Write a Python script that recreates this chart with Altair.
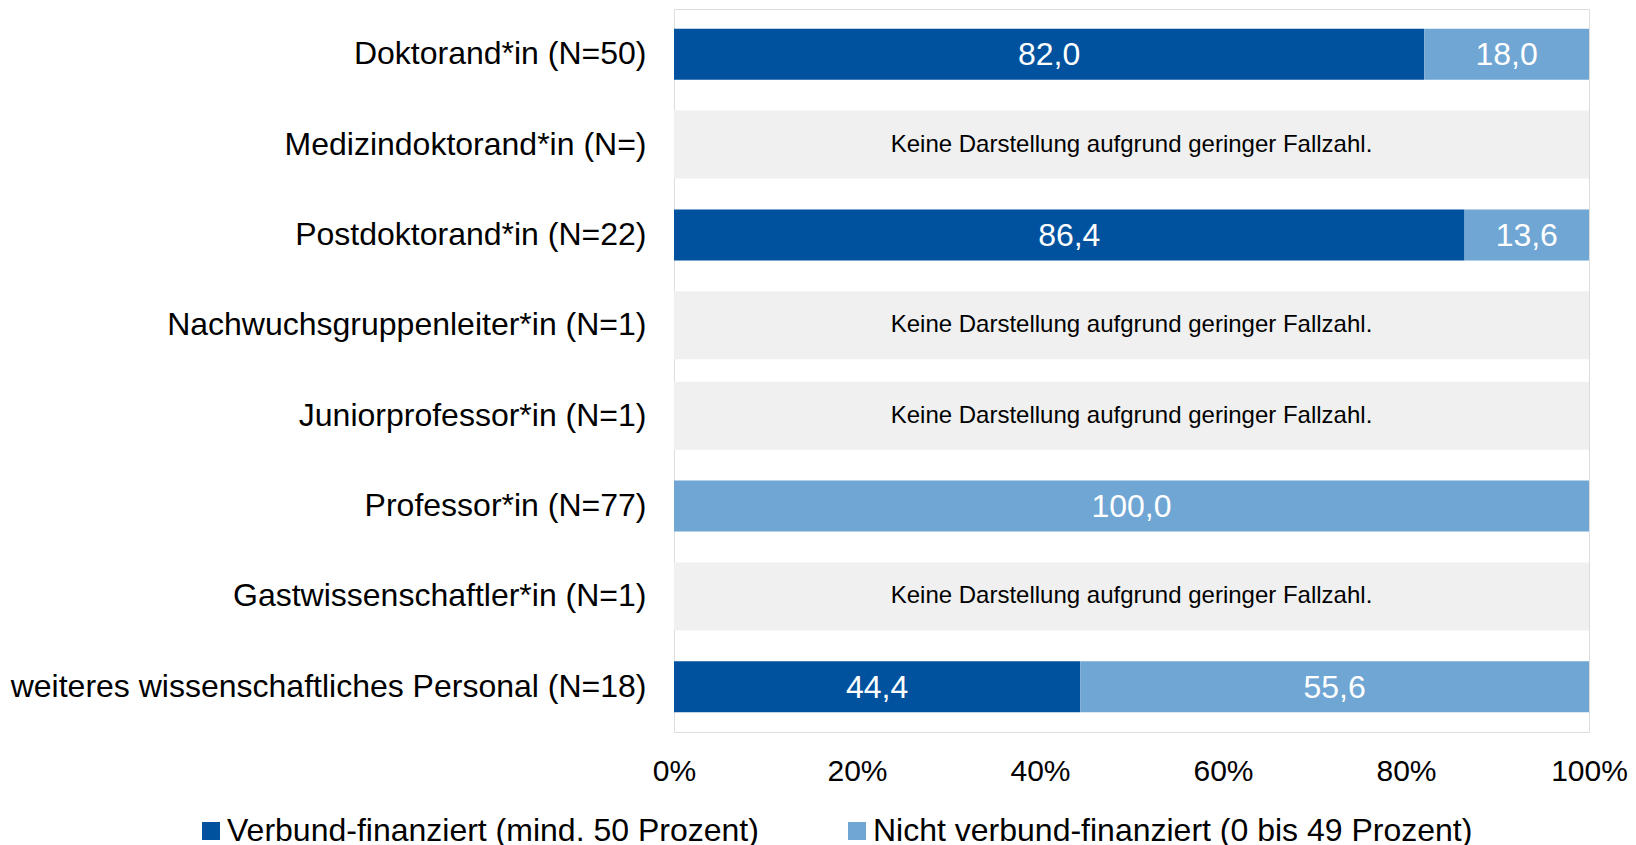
import altair as alt
import pandas as pd

categories = [
    "Doktorand*in (N=50)",
    "Medizindoktorand*in (N=)",
    "Postdoktorand*in (N=22)",
    "Nachwuchsgruppenleiter*in (N=1)",
    "Juniorprofessor*in (N=1)",
    "Professor*in (N=77)",
    "Gastwissenschaftler*in (N=1)",
    "weiteres wissenschaftliches Personal (N=18)",
]
verbund = [82.0, None, 86.4, None, None, 0.0, None, 44.4]
nicht = [18.0, None, 13.6, None, None, 100.0, None, 55.6]
series = ["Verbund-finanziert (mind. 50 Prozent)", "Nicht verbund-finanziert (0 bis 49 Prozent)"]
colors = ["#00529F", "#6FA6D4"]
missing_text = "Keine Darstellung aufgrund geringer Fallzahl."
x_ticks = [0, 20, 40, 60, 80, 100]

rows = []
for c, v, n in zip(categories, verbund, nicht):
    if v is None:
        continue
    for i, (s, val) in enumerate(zip(series, [v, n])):
        rows.append({"cat": c, "series": s, "value": val, "ord": i,
                     "label": f"{val:.1f}".replace(".", ",")})
df = pd.DataFrame(rows)

missing = pd.DataFrame([{"cat": c, "lo": 0, "hi": 100, "mid": 50, "txt": missing_text}
                        for c, v in zip(categories, verbund) if v is None])

FONT = "Liberation Sans"

y_enc = alt.Y("cat:N", sort=categories, title=None,
              scale=alt.Scale(paddingInner=0, paddingOuter=0),
              axis=alt.Axis(labelFontSize=32, labelFont=FONT, labelColor="#000000",
                            labelPadding=28, ticks=False, domain=False, labelLimit=1000))

gray = alt.Chart(missing).mark_bar(size=68, color="#F0F0F0").encode(
    y=y_enc,
    x=alt.X("lo:Q"),
    x2="hi:Q",
)
gray_txt = alt.Chart(missing).mark_text(font=FONT, fontSize=24, color="#000000").encode(
    y=alt.Y("cat:N", sort=categories),
    x=alt.X("mid:Q"),
    text="txt:N",
)

bars = alt.Chart(df).mark_bar(size=51).encode(
    y=y_enc,
    x=alt.X("value:Q", stack="zero",
            scale=alt.Scale(domain=[0, 100], nice=False, zero=True),
            axis=alt.Axis(values=x_ticks, labelExpr="datum.value + '%'", title=None,
                          labelFontSize=30, labelFont=FONT, labelColor="#000000",
                          labelPadding=24, labelFlush=False,
                          ticks=False, domain=False, grid=False)),
    color=alt.Color("series:N", sort=series,
                    scale=alt.Scale(domain=series, range=colors),
                    legend=alt.Legend(title=None, orient="none", direction="horizontal",
                                      legendX=-479, legendY=806,
                                      symbolType="square", symbolSize=324,
                                      symbolStrokeWidth=0, symbolOpacity=1,
                                      labelFont=FONT, labelFontSize=32, labelColor="#000000",
                                      labelOffset=0, columnPadding=82, labelLimit=1000)),
    order=alt.Order("ord:Q"),
)

labels = alt.Chart(df).transform_filter("datum.value > 0").transform_stack(
    stack="value", groupby=["cat"], as_=["v0", "v1"],
    sort=[alt.SortField("ord", order="ascending")],
).transform_calculate(mid="(datum.v0 + datum.v1) / 2").mark_text(
    font=FONT, fontSize=32, color="#FFFFFF", dy=1
).encode(
    y=alt.Y("cat:N", sort=categories),
    x=alt.X("mid:Q"),
    text="label:N",
)

chart = alt.layer(gray, gray_txt, bars, labels).properties(
    width=915, height=723,
    padding={"left": 2, "top": 1, "right": 0, "bottom": 4},
).configure_view(stroke="#D9D9D9", strokeWidth=2).configure(background="#FFFFFF")

chart.save("out.html", embed_options={"renderer": "svg", "actions": False})
